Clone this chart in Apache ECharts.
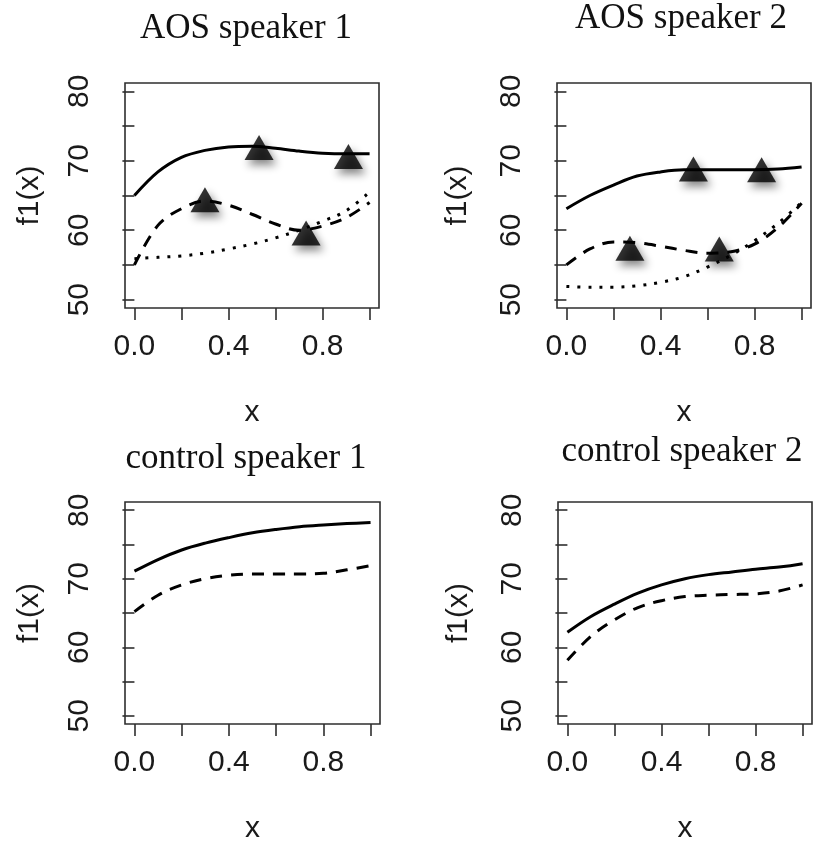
<!DOCTYPE html>
<html>
<head>
<meta charset="utf-8">
<script src="https://cdn.jsdelivr.net/npm/echarts@6/dist/echarts.min.js"></script>
<style>
html,body{margin:0;padding:0;background:#fff;}
#chart{width:814px;height:845px;}
</style>
</head>
<body>
<div id="chart"></div>
<script>
// ---- data ----
var titles = ['AOS speaker 1', 'AOS speaker 2', 'control speaker 1', 'control speaker 2'];
var xGrid = [0, 0.1, 0.2, 0.3, 0.4, 0.5, 0.6, 0.7, 0.8, 0.9, 1.0];
var xTicks = [0, 0.2, 0.4, 0.6, 0.8, 1.0];
var xTickLabels = [0, 0.4, 0.8];
var yTicks = [50, 55, 60, 65, 70, 75, 80];
var yTickLabels = [50, 60, 70, 80];

var aos1Solid  = [65.0, 68.4, 70.5, 71.5, 72.0, 72.1, 71.8, 71.4, 71.1, 71.0, 71.0];
var aos1Dashed = [55.0, 60.7, 63.1, 64.2, 63.6, 62.3, 60.9, 60.0, 60.6, 61.8, 64.0];
var aos1Dotted = [55.9, 56.1, 56.3, 56.7, 57.3, 58.0, 58.9, 60.0, 61.3, 62.8, 65.5];
var aos1PeakX  = [0.53, 0.91, 0.30, 0.73];
var aos1PeakY  = [71.9, 70.6, 64.4, 59.6];

var aos2Solid  = [63.1, 65.0, 66.5, 67.8, 68.4, 68.7, 68.7, 68.7, 68.7, 68.8, 69.1];
var aos2Dashed = [55.0, 57.3, 58.3, 58.2, 57.7, 57.1, 56.7, 56.9, 58.0, 60.4, 63.9];
var aos2Dotted = [51.9, 51.8, 51.8, 52.0, 52.5, 53.3, 54.7, 56.4, 58.5, 61.0, 64.0];
var aos2PeakX  = [0.54, 0.83, 0.27, 0.65];
var aos2PeakY  = [68.8, 68.7, 57.4, 57.3];

var ctl1Solid  = [71.1, 72.8, 74.2, 75.2, 76.0, 76.7, 77.2, 77.6, 77.85, 78.05, 78.2];
var ctl1Dashed = [65.2, 67.6, 69.1, 70.0, 70.5, 70.7, 70.7, 70.7, 70.8, 71.3, 71.9];

var ctl2Solid  = [62.2, 64.5, 66.3, 67.9, 69.1, 70.0, 70.6, 71.0, 71.4, 71.7, 72.2];
var ctl2Dashed = [58.1, 61.6, 64.0, 65.8, 66.8, 67.4, 67.6, 67.7, 67.8, 68.2, 69.1];

// ---- layout ----
var grids = [
  {left: 125, top: 83,  width: 254, height: 225},
  {left: 557, top: 83,  width: 254, height: 225},
  {left: 125, top: 502, width: 255, height: 225},
  {left: 558, top: 502, width: 254, height: 225}
];
var titleTops = [11, 1, 441, 434];
var titleCenters = [246, 681, 246, 682];
var yNameGaps = [80, 84, 80, 84];

var sansFont = '"Liberation Sans", Arial, sans-serif';
var serifFont = '"Liberation Serif", "Times New Roman", serif';
var ink = '#1a1a1a';

function pairs(xs, ys) { return xs.map(function (x, i) { return [x, ys[i]]; }); }

var option = {
  backgroundColor: '#fff',
  animation: false,
  title: titles.map(function (t, i) {
    return {text: t, left: titleCenters[i], top: titleTops[i], textAlign: 'center', padding: 0,
      textStyle: {fontFamily: serifFont, fontSize: 35, fontWeight: 'normal', color: '#111'}};
  }),
  grid: grids.map(function (g) {
    return {left: g.left, top: g.top, width: g.width, height: g.height, show: true,
      borderColor: '#2e2e2e', borderWidth: 1.6, backgroundColor: 'transparent', containLabel: false};
  }),
  xAxis: grids.map(function (g, i) {
    return {type: 'value', gridIndex: i, min: -0.04, max: 1.04,
      name: 'x', nameLocation: 'middle', nameGap: 90,
      nameTextStyle: {fontFamily: sansFont, fontSize: 30, color: ink},
      axisLine: {show: false},
      splitLine: {show: false},
      axisTick: {show: true, length: 12, customValues: xTicks, lineStyle: {color: '#2e2e2e', width: 1.6}},
      axisLabel: {customValues: xTickLabels, margin: 24, fontFamily: sansFont, fontSize: 30, color: ink,
        formatter: function (v) { return Number(v).toFixed(1); }}
    };
  }),
  yAxis: grids.map(function (g, i) {
    return {type: 'value', gridIndex: i, min: 48.8, max: 81.2,
      name: 'f1(x)', nameLocation: 'middle', nameRotate: 90, nameGap: yNameGaps[i],
      nameTextStyle: {fontFamily: sansFont, fontSize: 30, color: ink},
      axisLine: {show: false},
      splitLine: {show: false},
      axisTick: {show: true, length: 12, customValues: yTicks, lineStyle: {color: '#2e2e2e', width: 1.6}},
      axisLabel: {customValues: yTickLabels, rotate: 90, margin: 30, fontFamily: sansFont, fontSize: 30, color: ink}
    };
  }),
  series: []
};

function addLine(idx, ys, type) {
  var dash = type === 'solid' ? 'solid' : (type === 'dashed' ? [12, 9] : [3, 8]);
  option.series.push({
    type: 'line', xAxisIndex: idx, yAxisIndex: idx, data: pairs(xGrid, ys),
    smooth: 0.35, showSymbol: false, silent: true,
    lineStyle: {color: '#000', width: 3, type: dash, cap: 'butt'}
  });
}
function addPeaks(idx, xs, ys) {
  option.series.push({
    type: 'scatter', xAxisIndex: idx, yAxisIndex: idx, data: pairs(xs, ys),
    symbol: 'triangle', symbolSize: [29, 25], z: 5, silent: true,
    itemStyle: {color: '#000', shadowBlur: 8, shadowColor: 'rgba(0,0,0,0.6)', shadowOffsetX: 3, shadowOffsetY: 5}
  });
}

addLine(0, aos1Solid, 'solid');
addLine(0, aos1Dashed, 'dashed');
addLine(0, aos1Dotted, 'dotted');
addPeaks(0, aos1PeakX, aos1PeakY);

addLine(1, aos2Solid, 'solid');
addLine(1, aos2Dashed, 'dashed');
addLine(1, aos2Dotted, 'dotted');
addPeaks(1, aos2PeakX, aos2PeakY);

addLine(2, ctl1Solid, 'solid');
addLine(2, ctl1Dashed, 'dashed');

addLine(3, ctl2Solid, 'solid');
addLine(3, ctl2Dashed, 'dashed');

var chart = echarts.init(document.getElementById('chart'), null, {renderer: 'canvas'});
chart.setOption(option);
</script>
</body>
</html>
